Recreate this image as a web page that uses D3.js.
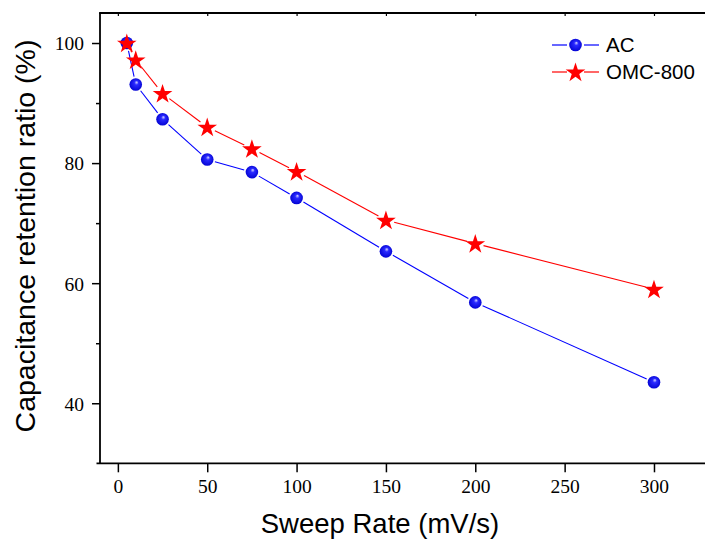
<!DOCTYPE html>
<html><head><meta charset="utf-8">
<script src="https://cdn.jsdelivr.net/npm/d3@7"></script>
<style>body{margin:0;background:#fff}svg{display:block}</style>
</head><body>
<svg id="c" width="705" height="539"></svg>
<script>
const sweepRates = [5, 10, 25, 50, 75, 100, 150, 200, 300];
const acValues = [100, 93.1, 87.3, 80.6, 78.5, 74.2, 65.3, 56.8, 43.5];
const omcValues = [100, 97.2, 91.6, 86.0, 82.4, 78.6, 70.5, 66.6, 59.0];
const xTicks = [0, 50, 100, 150, 200, 250, 300];
const yTicks = [40, 60, 80, 100];
const yMinorTicks = [50, 70, 90];
const seriesNames = ["AC", "OMC-800"];

const svg = d3.select("#c");
const x = d3.scaleLinear().domain([-10, 330]).range([100, 707.6]);
const y = d3.scaleLinear().domain([30, 105]).range([463.3, 13]);

const defs = svg.append("defs");
const g = defs.append("radialGradient").attr("id","ball").attr("cx","50%").attr("cy","50%").attr("r","55%").attr("fx","58%").attr("fy","32%");
g.append("stop").attr("offset","0%").attr("stop-color","#d8d8ff");
g.append("stop").attr("offset","30%").attr("stop-color","#2a2aff");
g.append("stop").attr("offset","100%").attr("stop-color","#0000d0");

// axes
const axisColor = "#000";
svg.append("line").attr("x1",96.5).attr("x2",705).attr("y1",y(30)).attr("y2",y(30)).attr("stroke",axisColor).attr("stroke-width",1.8);
svg.append("line").attr("x1",x(-10)).attr("x2",x(-10)).attr("y1",y(105)).attr("y2",y(30)).attr("stroke",axisColor).attr("stroke-width",1.8);
svg.append("line").attr("x1",x(-10)-0.9).attr("x2",705).attr("y1",y(105)).attr("y2",y(105)).attr("stroke",axisColor).attr("stroke-width",1.8);

const xAxis = d3.axisBottom(x).tickValues(xTicks).tickSize(9).tickPadding(7).tickFormat(d3.format("d"));
const gx = svg.append("g").attr("transform",`translate(0,${y(30)})`).call(xAxis);
gx.select(".domain").remove();
gx.selectAll("line").attr("stroke-width",1.5);
gx.selectAll("text").attr("font-family","'Liberation Serif','Times New Roman',serif").attr("font-size",19.5).attr("fill","#000");

const gxt = svg.append("g").attr("transform",`translate(0,${y(105)})`).call(d3.axisTop(x).tickValues(xTicks).tickSize(-3).tickFormat(""));
gxt.select(".domain").remove();
gxt.selectAll("line").attr("stroke-width",1.2);

const yAxis = d3.axisLeft(y).tickValues(yTicks).tickSize(8).tickPadding(8).tickFormat(d3.format("d"));
const gy = svg.append("g").attr("transform",`translate(${x(-10)},0)`).call(yAxis);
gy.select(".domain").remove();
gy.selectAll("line").attr("stroke-width",1.5);
gy.selectAll("text").attr("font-family","'Liberation Serif','Times New Roman',serif").attr("font-size",19.5).attr("fill","#000").attr("dy","0.35em");
const gym = svg.append("g").attr("transform",`translate(${x(-10)},0)`).call(d3.axisLeft(y).tickValues(yMinorTicks).tickSize(4).tickFormat(""));
gym.select(".domain").remove();
gym.selectAll("line").attr("stroke-width",1.5);

// titles
svg.append("text").attr("x",380).attr("y",533).attr("text-anchor","middle")
  .attr("font-family","'Liberation Sans',Arial,sans-serif").attr("font-size",27.5).text("Sweep Rate (mV/s)");
svg.append("text").attr("transform",`translate(34.5,${236}) rotate(-90)`).attr("text-anchor","middle")
  .attr("font-family","'Liberation Sans',Arial,sans-serif").attr("font-size",28.5).text("Capacitance retention ratio (%)");

// gapped segments
function drawSegments(pts, color, gap){
  for(let i=0;i<pts.length-1;i++){
    const [x1,y1]=pts[i],[x2,y2]=pts[i+1];
    const dx=x2-x1, dy=y2-y1, L=Math.hypot(dx,dy);
    if(L<=2*gap) continue;
    const ux=dx/L, uy=dy/L;
    svg.append("line").attr("x1",x1+ux*gap).attr("y1",y1+uy*gap).attr("x2",x2-ux*gap).attr("y2",y2-uy*gap)
      .attr("stroke",color).attr("stroke-width",1.1);
  }
}
const acPts = sweepRates.map((r,i)=>[x(r),y(acValues[i])]);
const omcPts = sweepRates.map((r,i)=>[x(r),y(omcValues[i])]);
drawSegments(acPts,"#0000ff",8);
drawSegments(omcPts,"#ff0000",8.5);

const star = d3.symbol().type(d3.symbolStar).size(120);
function ball(sel){ sel.attr("r",6.3).attr("fill","url(#ball)"); }
function starM(sel){ sel.attr("d",star).attr("fill","#ff0000"); }

svg.append("g").selectAll("circle").data(acPts).join("circle").attr("cx",d=>d[0]).attr("cy",d=>d[1]).call(ball);
svg.append("g").selectAll("path").data(omcPts).join("path").attr("transform",d=>`translate(${d[0]},${d[1]+0.8})`).call(starM);

// legend
const lg = svg.append("g");
const legY = [45, 72];
seriesNames.forEach((name,i)=>{
  const col = i===0?"#0000ff":"#ff0000";
  lg.append("line").attr("x1",552).attr("x2",567).attr("y1",legY[i]).attr("y2",legY[i]).attr("stroke",col).attr("stroke-width",1.2);
  lg.append("line").attr("x1",584).attr("x2",599).attr("y1",legY[i]).attr("y2",legY[i]).attr("stroke",col).attr("stroke-width",1.2);
  if(i===0) lg.append("circle").attr("cx",575.5).attr("cy",legY[i]).call(ball);
  else lg.append("path").attr("transform",`translate(575.5,${legY[i]+0.8})`).call(starM);
  lg.append("text").attr("x",606).attr("y",legY[i]).attr("dy","0.36em").attr("font-family","'Liberation Sans',Arial,sans-serif").attr("font-size",20.5).text(name);
});
</script>
</body></html>
